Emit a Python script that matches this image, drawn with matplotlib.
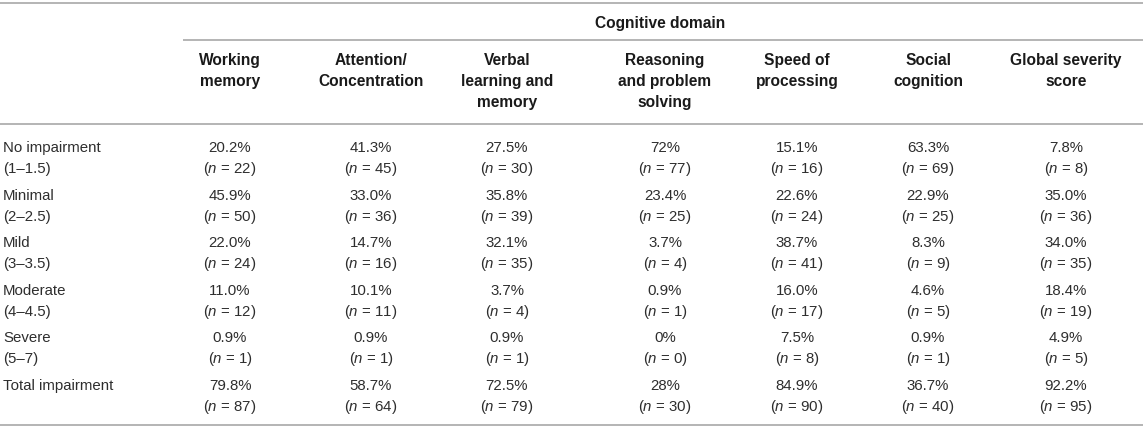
import matplotlib
matplotlib.use("Agg")
import matplotlib.pyplot as plt

plt.rcParams["font.family"] = ["Liberation Sans", "DejaVu Sans"]
plt.rcParams["mathtext.fontset"] = "custom"
plt.rcParams["mathtext.rm"] = "Liberation Sans"
plt.rcParams["mathtext.it"] = "Liberation Sans:italic"

# ---- table data ----
group_title = "Cognitive domain"
domains = ["Working\nmemory", "Attention/\nConcentration", "Verbal\nlearning and\nmemory",
           "Reasoning\nand problem\nsolving", "Speed of\nprocessing", "Social\ncognition",
           "Global severity\nscore"]
severity = ["No impairment\n(1–1.5)", "Minimal\n(2–2.5)", "Mild\n(3–3.5)",
            "Moderate\n(4–4.5)", "Severe\n(5–7)", "Total impairment"]

working_pct = ["20.2%", "45.9%", "22.0%", "11.0%", "0.9%", "79.8%"]
working_n = [22, 50, 24, 12, 1, 87]
attention_pct = ["41.3%", "33.0%", "14.7%", "10.1%", "0.9%", "58.7%"]
attention_n = [45, 36, 16, 11, 1, 64]
verbal_pct = ["27.5%", "35.8%", "32.1%", "3.7%", "0.9%", "72.5%"]
verbal_n = [30, 39, 35, 4, 1, 79]
reasoning_pct = ["72%", "23.4%", "3.7%", "0.9%", "0%", "28%"]
reasoning_n = [77, 25, 4, 1, 0, 30]
speed_pct = ["15.1%", "22.6%", "38.7%", "16.0%", "7.5%", "84.9%"]
speed_n = [16, 24, 41, 17, 8, 90]
social_pct = ["63.3%", "22.9%", "8.3%", "4.6%", "0.9%", "36.7%"]
social_n = [69, 25, 9, 5, 1, 40]
global_pct = ["7.8%", "35.0%", "34.0%", "18.4%", "4.9%", "92.2%"]
global_n = [8, 36, 35, 19, 5, 95]

pct_cols = [working_pct, attention_pct, verbal_pct, reasoning_pct, speed_pct, social_pct, global_pct]
n_cols = [working_n, attention_n, verbal_n, reasoning_n, speed_n, social_n, global_n]

# ---- layout (pixel space, y downwards) ----
W, H = 1143, 430
col_x = [230, 371, 507, 665, 797, 928, 1066]
label_x = 3
row_y0, row_pitch, line_gap = 147, 47.6, 21
head_y0 = 60
base_off = 5          # text centre -> baseline
FS = 10.8
FS_HEAD = 11.2
TXT = "#2e2e2e"
HEAD = "#1a1a1a"
RULE = "#b4b4b4"

fig = plt.figure(figsize=(W / 100, H / 100), dpi=100)
ax = fig.add_axes([0, 0, 1, 1])
ax.set_xlim(0, W)
ax.set_ylim(H, 0)
ax.axis("off")

# rules
for y, x0 in [(3, 0), (40, 183), (124, 0), (425, 0)]:
    ax.plot([x0, W], [y, y], color=RULE, lw=1.4, solid_capstyle="butt")

ax.text(660, 23 + base_off, group_title, ha="center", va="baseline",
        fontsize=FS_HEAD, fontweight="bold", color=HEAD)

for x, name in zip(col_x, domains):
    for k, line in enumerate(name.split("\n")):
        ax.text(x, head_y0 + k * line_gap + base_off, line, ha="center", va="baseline",
                fontsize=FS_HEAD, fontweight="bold", color=HEAD)

for i, lab in enumerate(severity):
    y = row_y0 + i * row_pitch
    for k, line in enumerate(lab.split("\n")):
        ax.text(label_x, y + k * line_gap + base_off, line, ha="left", va="baseline",
                fontsize=FS, color=TXT)
    for x, pcts, ns in zip(col_x, pct_cols, n_cols):
        ax.text(x, y + base_off, pcts[i], ha="center", va="baseline", fontsize=FS, color=TXT)
        ax.text(x, y + line_gap + base_off, r"($\it{n}$ = %d)" % ns[i], ha="center",
                va="baseline", fontsize=FS, color=TXT)

fig.savefig("out.png", dpi=100)
